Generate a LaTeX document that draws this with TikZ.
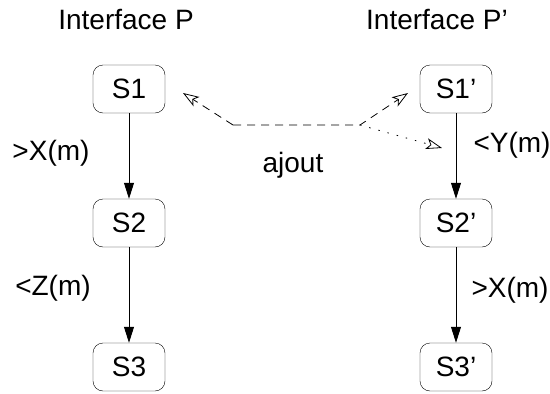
\documentclass[tikz,border=0pt]{standalone}
\usepackage{fontspec}
\setmainfont{Liberation Sans}
\usetikzlibrary{arrows.meta,shapes}
\tikzstyle{state}=[draw,rounded corners=10pt,minimum width=72pt,minimum height=48pt,inner sep=0pt,font=\fontsize{28}{32}\selectfont]
\tikzstyle{trans} = [draw,line width=0.8pt,-{Triangle[length=16pt,width=10pt]}]
\tikzstyle{ajout} = [draw,line width=0.8pt,dash pattern=on 8pt off 6pt,-{Stealth[open,length=16pt,width=11pt,inset=4pt]}]
\tikzstyle{ajoutpt} = [draw,line width=0.8pt,dash pattern=on 1.5pt off 8pt,-{Stealth[open,length=16pt,width=11pt,inset=4pt]}]
\tikzstyle{txt}=[font=\fontsize{28}{32}\selectfont,inner sep=0pt]

\begin{document}
\begin{tikzpicture}[x=1pt,y=-1pt]
    \useasboundingbox (0,0) rectangle (550,394);
    % Titles of the two interfaces
    \node[txt] (ifP) at (126,20) {Interface P};
    \node[txt] (ifPp) at (437,20) {Interface P'};

    % First we draw the states
    \foreach \pos/\name/\lbl in {{(129,89)/S1/S1}, {(129,223)/S2/S2}, {(129,367)/S3/S3}, {(456,89)/S1p/S1'}, {(456,223)/S2p/S2'}, {(456,367)/S3p/S3'}}
        \node[state] (\name) at \pos {\lbl};

    % Connect states with transitions
    \foreach \source/ \dest in {S1/S2, S2/S3, S1p/S2p, S2p/S3p}
        \path[trans] (\source) -- (\dest) ;

    % Transition labels
    \node[txt] (xm) at (51,153) {>X(m)};
    \node[txt] (zm) at (53,288) {<Z(m)};
    \node[txt] (ym) at (512,145) {<Y(m)};
    \node[txt] (xmp) at (510,290) {>X(m)};

    % The ajout arrows
    \coordinate (j1) at (233,125);
    \coordinate (j2) at (360,125);
    \coordinate (t1) at (183,93);
    \coordinate (t2) at (408,93);
    \coordinate (t3) at (442,148);
    \path[ajout] (j1) -- (t1);
    \path[ajout] (j1) -- (j2) -- (t2);
    \path[ajoutpt] (j2) -- (t3);
    \node[txt] (aj) at (293,165) {ajout};
\end{tikzpicture}
\end{document}
